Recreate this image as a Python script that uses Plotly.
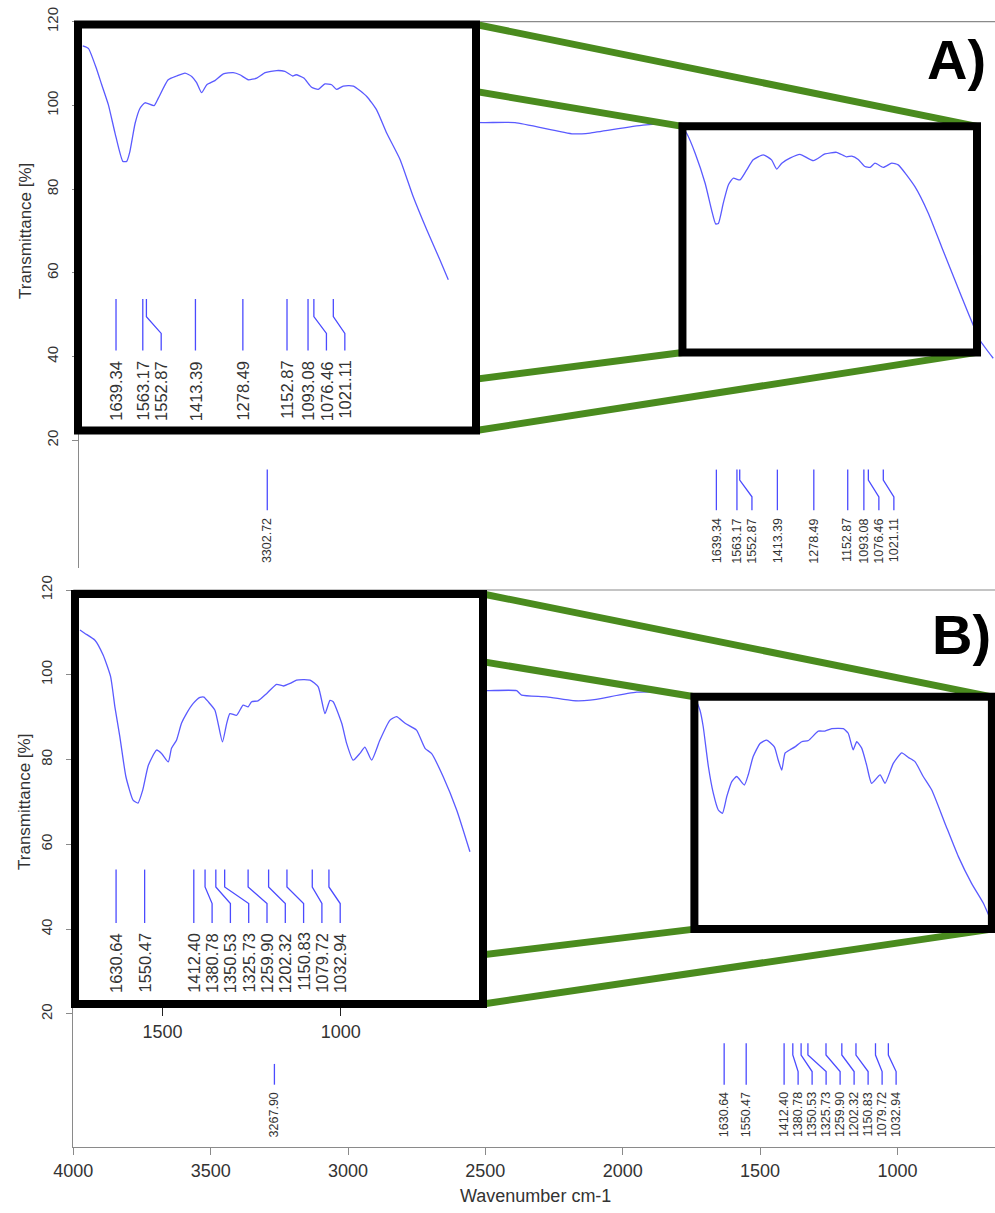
import plotly.graph_objects as go

W, H = 995, 1213

# ---------------- data ----------------
X_TICKS = [4000, 3500, 3000, 2500, 2000, 1500, 1000]
Y_TICKS = [20, 40, 60, 80, 100, 120]
ZOOM_X_TICKS = [1500, 1000]

# panel A - full spectrum (wavenumber, transmittance)
WN_A = [4000, 3700, 3302.72, 3000, 2700, 2496, 2385, 2170, 2107, 1911, 1774,
        1749, 1718, 1681, 1657, 1642, 1632, 1614, 1595, 1577, 1552, 1527, 1503,
        1466, 1435, 1416, 1397, 1367, 1330, 1280, 1237, 1194, 1157, 1138, 1114,
        1089, 1070, 1052, 1021, 990, 966, 904, 854, 805, 756, 706, 663, 614]
T_A = [96.5, 96.0, 94.5, 95.5, 96.0, 95.9, 95.9, 93.2, 93.4, 95.3, 95.5,
       93.3, 88.6, 81.4, 75.0, 71.7, 71.8, 76.6, 81.0, 82.6, 82.2, 84.6, 87.0,
       88.2, 87.0, 84.8, 86.2, 87.4, 88.3, 86.8, 88.4, 88.8, 87.7, 87.9, 87.1,
       85.4, 85.2, 86.2, 85.2, 86.2, 85.8, 80.6, 74.2, 66.2, 58.3, 50.3, 43.9, 39.6]

# panel A - magnified region
WN_A_ZOOM = [1734, 1718, 1694, 1680, 1661, 1642, 1620, 1609, 1600, 1585, 1571,
             1557, 1531, 1519, 1491, 1467, 1443, 1424, 1410, 1396, 1381, 1358,
             1334, 1306, 1287, 1263, 1239, 1215, 1182, 1159, 1137, 1127, 1105,
             1083, 1064, 1045, 1026, 1012, 993, 964, 926, 898, 869, 831, 794,
             755, 718, 694]
T_A_ZOOM = [114.2, 113.6, 108.5, 104.9, 100.1, 93.3, 86.6, 86.6, 88.9, 95.7, 99.3,
            100.6, 99.9, 101.7, 106.1, 107.0, 107.7, 106.9, 105.4, 103.0, 104.9, 105.9,
            107.5, 107.8, 107.3, 106.1, 106.5, 107.8, 108.3, 108.1, 107.0, 107.3, 106.5,
            104.3, 103.8, 105.1, 104.9, 103.8, 104.6, 104.6, 102.1, 98.9, 93.3, 87.0, 78.2,
            70.2, 63.1, 58.3]

# panel B - full spectrum
WN_B = [4000, 3700, 3267.90, 3000, 2700, 2495, 2386, 2368, 2277, 2181, 2119,
        1949, 1800, 1740,
        1719, 1707, 1688, 1670, 1652, 1637, 1621, 1603, 1585, 1557, 1543, 1525,
        1500, 1476, 1448, 1434, 1421, 1409, 1391, 1373, 1348, 1324, 1288, 1264,
        1239, 1197, 1179, 1161, 1148, 1130, 1112, 1094, 1063, 1045, 1015, 984,
        960, 936, 906, 875, 827, 778, 730, 687, 663, 645]
T_B = [96.3, 96.2, 95.0, 95.8, 96.2, 96.25, 96.25, 95.2, 94.8, 93.9, 94.0,
       95.9, 95.8, 94.5,
       91.7, 87.8, 78.3, 72.0, 68.1, 67.3, 71.3, 74.8, 76.0, 74.0, 76.4, 80.7,
       83.8, 84.6, 83.0, 79.9, 77.5, 81.5, 82.3, 83.0, 84.2, 84.5, 86.7, 86.7,
       87.3, 87.3, 86.2, 82.3, 84.2, 82.7, 78.7, 74.4, 76.4, 74.4, 79.1, 81.6,
       80.5, 79.5, 76.0, 72.8, 65.0, 57.1, 50.8, 46.1, 42.6, 40.5]

# panel B - magnified region
WN_B_ZOOM = [1732, 1718, 1690, 1667, 1646, 1634, 1620, 1603, 1583, 1569, 1556,
             1540, 1517, 1503, 1484, 1475, 1461, 1447, 1433, 1414, 1395, 1384,
             1372, 1353, 1332, 1320, 1311, 1292, 1274, 1260, 1250, 1232, 1208,
             1180, 1161, 1142, 1124, 1086, 1063, 1044, 1030, 1021, 997, 983,
             965, 946, 932, 913, 890, 862, 843, 819, 787, 763, 745, 712, 674, 637]
T_B_ZOOM = [110.6, 109.8, 108.2, 104.7, 99.6, 92.5, 85.4, 76.0, 70.5, 69.8, 72.8,
            78.7, 82.3, 81.5, 79.5, 82.7, 84.6, 88.6, 90.9, 93.3, 94.7, 94.8,
            93.7, 91.7, 84.2, 88.6, 90.9, 90.5, 92.9, 92.5, 93.7, 93.9, 95.6,
            97.8, 97.4, 98.0, 98.8, 98.8, 97.2, 90.9, 94.0, 93.7, 88.6, 83.8,
            79.9, 81.5, 83.0, 79.9, 84.6, 89.3, 90.2, 88.6, 87.0, 82.7, 81.5, 76.0, 68.1, 58.3]

PEAKS_A = [3302.72, 1639.34, 1563.17, 1552.87, 1413.39, 1278.49,
           1152.87, 1093.08, 1076.46, 1021.11]
PEAKS_A_ZOOM = [1639.34, 1563.17, 1552.87, 1413.39, 1278.49,
                1152.87, 1093.08, 1076.46, 1021.11]
PEAKS_B = [3267.90, 1630.64, 1550.47, 1412.40, 1380.78, 1350.53, 1325.73,
           1259.90, 1202.32, 1150.83, 1079.72, 1032.94]
PEAKS_B_ZOOM = [1630.64, 1550.47, 1412.40, 1380.78, 1350.53, 1325.73,
                1259.90, 1202.32, 1150.83, 1079.72, 1032.94]

PANEL_LABELS = ["A)", "B)"]
X_TITLE = "Wavenumber cm-1"
Y_TITLE = "Transmittance [%]"

# ---------------- layout geometry (pixels) ----------------
GEO = {
    "A":  dict(xpx=(79, 995),   xr=(4000, 607.4), ypx=(21.7, 568),  yr=(120, -10.5)),
    "B":  dict(xpx=(73.3, 995), xr=(4000, 644.7), ypx=(590, 1147),  yr=(120, -11.4)),
    "Az": dict(xpx=(78, 476),   xr=(1747.5, 615.2), ypx=(24.5, 430.5), yr=(119.3, 22.3)),
    "Bz": dict(xpx=(75, 483),   xr=(1746, 600.3),  ypx=(594, 1004),  yr=(119.1, 22.4)),
}
ZOOM_BOX = {"A": dict(x=(1765, 674), y=(41, 95)),
            "B": dict(x=(1739, 656), y=(40, 94.8))}

LINE_GEO = {
    "A":  dict(top=13.0, k1=10.5, k2=6.5, bot=3.3, txt=1.6, gap_px=15.0, fs=12.5),
    "B":  dict(top=13.1, k1=10.3, k2=6.4, bot=3.3, txt=1.7, gap_px=14.0, fs=12.5),
    "Az": dict(top=53.7, k1=49.5, k2=45.5, bot=41.4, txt=39.2, gap_px=18.4, fs=16.5),
    "Bz": dict(top=54.1, k1=50.0, k2=46.1, bot=41.5, txt=39.4, gap_px=18.3, fs=16.5),
}
SHORT_TOP = {"B": {3267.90: 8.2}}

SPEC_COLOR = "#5a5aff"
PEAK_COLOR = "#4b4bff"
GREEN = "#4a8b1e"
AXIS_GRAY = "#8a8a8a"
TEXT = "#333333"
FONT = "Liberation Sans, Arial, sans-serif"


def dom_x(k):
    a, b = GEO[k]["xpx"]
    return [a / W, b / W]


def dom_y(k):
    t, b = GEO[k]["ypx"]
    return [1 - b / H, 1 - t / H]


def px_to_data(k, px, py):
    g = GEO[k]
    x = g["xr"][0] + (px - g["xpx"][0]) / (g["xpx"][1] - g["xpx"][0]) * (g["xr"][1] - g["xr"][0])
    y = g["yr"][0] + (py - g["ypx"][0]) / (g["ypx"][1] - g["ypx"][0]) * (g["yr"][1] - g["yr"][0])
    return x, y


def wn_per_px(k):
    g = GEO[k]
    return abs(g["xr"][1] - g["xr"][0]) / (g["xpx"][1] - g["xpx"][0])


def spread(peaks, gap):
    out = []
    for p in peaks:
        out.append(p if not out else min(p, out[-1] - gap))
    return out


fig = go.Figure()
annotations = []
shapes = []

panels = [
    ("A", "Az", WN_A, T_A, WN_A_ZOOM, T_A_ZOOM, PEAKS_A, PEAKS_A_ZOOM, ("x", "y"), ("x3", "y3")),
    ("B", "Bz", WN_B, T_B, WN_B_ZOOM, T_B_ZOOM, PEAKS_B, PEAKS_B_ZOOM, ("x2", "y2"), ("x4", "y4")),
]


def add_peaks(key, peaks, xa, ya):
    lg = LINE_GEO[key]
    lx = spread(peaks, lg["gap_px"] * wn_per_px(key))
    xs, ys = [], []
    for p, l in zip(peaks, lx):
        top = SHORT_TOP.get(key, {}).get(p, lg["top"])
        if l == p:
            xs += [p, p, None]
            ys += [top, lg["bot"], None]
        else:
            xs += [p, p, l, l, None]
            ys += [top, lg["k1"], lg["k2"], lg["bot"], None]
        annotations.append(dict(
            x=l, y=lg["txt"], xref=xa, yref=ya, text="%.2f" % p, showarrow=False,
            textangle=-90, xanchor="center", yanchor="top",
            font=dict(family=FONT, size=lg["fs"], color=TEXT), borderpad=0))
    fig.add_trace(go.Scatter(x=xs, y=ys, xaxis=xa, yaxis=ya, mode="lines",
                             line=dict(color=PEAK_COLOR, width=1.3), hoverinfo="skip"))


SPEC_LINE = dict(color=SPEC_COLOR, width=1.3, shape="spline", smoothing=0.5)

for i, (mk, zk, wn, tt, wnz, ttz, pk, pkz, (xa, ya), (xz, yz)) in enumerate(panels):
    # main spectrum
    fig.add_trace(go.Scatter(x=wn, y=tt, xaxis=xa, yaxis=ya, mode="lines", line=SPEC_LINE))
    add_peaks(mk, pk, xa, ya)
    # green connector lines (inset corners -> zoom box corners)
    zg = GEO[zk]
    box = ZOOM_BOX[mk]
    gx, gy = [], []
    for cx, bx in ((0, 0), (1, 1)):
        for cy, by in ((0, 1), (1, 0)):
            px = zg["xpx"][cx]
            py = zg["ypx"][cy]
            dx, dy = px_to_data(mk, px, py)
            gx += [dx, box["x"][bx], None]
            gy += [dy, box["y"][by], None]
    fig.add_trace(go.Scatter(x=gx, y=gy, xaxis=xa, yaxis=ya, mode="lines",
                             line=dict(color=GREEN, width=7), hoverinfo="skip"))
    # inset spectrum
    fig.add_trace(go.Scatter(x=wnz, y=ttz, xaxis=xz, yaxis=yz, mode="lines", line=SPEC_LINE))
    add_peaks(zk, pkz, xz, yz)

    # zoom box on the main spectrum
    shapes.append(dict(type="rect", xref=xa, yref=ya, x0=box["x"][0], x1=box["x"][1],
                       y0=box["y"][0], y1=box["y"][1], line=dict(color="black", width=8),
                       layer="above"))
    # inset frame
    shapes.append(dict(type="rect", xref=xz + " domain", yref=yz + " domain",
                       x0=0, x1=1, y0=0, y1=1, line=dict(color="black", width=8),
                       layer="above"))
    # top border of panel
    shapes.append(dict(type="line", xref=xa + " domain", yref=ya + " domain",
                       x0=0, x1=1, y0=1, y1=1, line=dict(color=AXIS_GRAY, width=1.2),
                       layer="below"))
    # y title
    annotations.append(dict(x=25 / W, xref="paper", y=70, yref=ya, text=Y_TITLE,
                            showarrow=False, textangle=-90, xanchor="center", yanchor="middle",
                            font=dict(family=FONT, size=17, color=TEXT)))

# panel letters
annotations.append(dict(x=956 / W, y=1 - 60 / H, xref="paper", yref="paper", text="<b>A)</b>",
                        showarrow=False, xanchor="center", yanchor="middle",
                        font=dict(family=FONT, size=56, color="black")))
annotations.append(dict(x=961 / W, y=1 - 634 / H, xref="paper", yref="paper", text="<b>B)</b>",
                        showarrow=False, xanchor="center", yanchor="middle",
                        font=dict(family=FONT, size=56, color="black")))
# x title
annotations.append(dict(x=535 / W, y=1 - 1196 / H, xref="paper", yref="paper", text=X_TITLE,
                        showarrow=False, xanchor="center", yanchor="middle",
                        font=dict(family=FONT, size=18, color=TEXT)))

yax_common = dict(showline=True, linecolor=AXIS_GRAY, linewidth=1.2, ticks="outside",
                  ticklen=6, tickcolor=AXIS_GRAY, tickvals=Y_TICKS, tickangle=-90,
                  tickfont=dict(family=FONT, size=15, color=TEXT), showgrid=False,
                  zeroline=False, ticklabelstandoff=8, automargin=False)

fig.update_layout(
    width=W, height=H, margin=dict(l=0, r=0, t=0, b=0, pad=0, autoexpand=False),
    paper_bgcolor="white", plot_bgcolor="white", showlegend=False,
    xaxis=dict(domain=dom_x("A"), range=list(GEO["A"]["xr"]), visible=False, anchor="y",
               automargin=False),
    yaxis=dict(domain=dom_y("A"), range=[GEO["A"]["yr"][1], GEO["A"]["yr"][0]], anchor="x", **yax_common),
    xaxis2=dict(domain=dom_x("B"), range=list(GEO["B"]["xr"]), anchor="y2", showline=True,
                linecolor=AXIS_GRAY, linewidth=1.2, ticks="outside", ticklen=7, tickcolor=AXIS_GRAY,
                tickvals=X_TICKS, tickfont=dict(family=FONT, size=18, color=TEXT),
                showgrid=False, zeroline=False, automargin=False),
    yaxis2=dict(domain=dom_y("B"), range=[GEO["B"]["yr"][1], GEO["B"]["yr"][0]], anchor="x2", **yax_common),
    xaxis3=dict(domain=dom_x("Az"), range=list(GEO["Az"]["xr"]), visible=False, anchor="y3",
                automargin=False),
    yaxis3=dict(domain=dom_y("Az"), range=[GEO["Az"]["yr"][1], GEO["Az"]["yr"][0]], visible=False,
                anchor="x3", automargin=False),
    xaxis4=dict(domain=dom_x("Bz"), range=list(GEO["Bz"]["xr"]), anchor="y4", showline=False,
                ticks="outside", ticklen=11, tickcolor="#222222", tickwidth=1.2, tickvals=ZOOM_X_TICKS,
                tickfont=dict(family=FONT, size=18, color=TEXT), showgrid=False, zeroline=False,
                automargin=False),
    yaxis4=dict(domain=dom_y("Bz"), range=[GEO["Bz"]["yr"][1], GEO["Bz"]["yr"][0]], visible=False,
                anchor="x4", automargin=False),
    annotations=annotations,
    shapes=shapes,
)

fig.write_html("out.html")
